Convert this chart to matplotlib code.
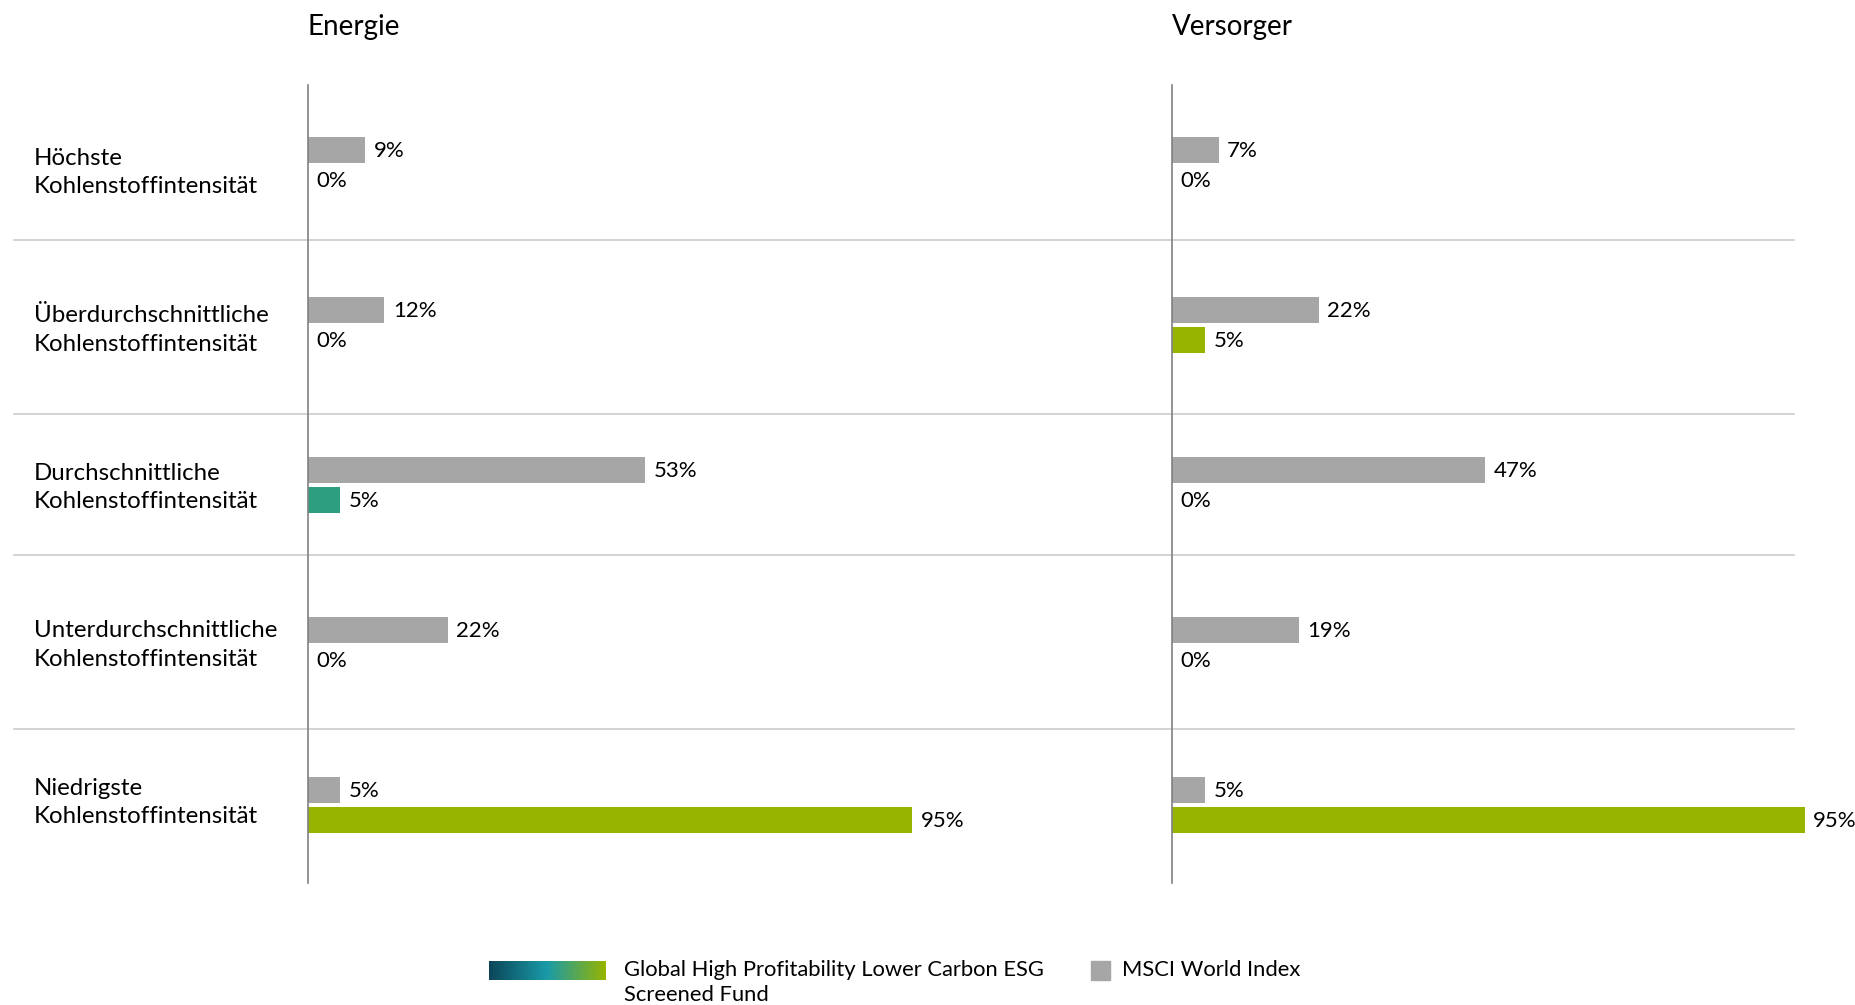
import matplotlib
matplotlib.use("Agg")
import matplotlib.pyplot as plt
import numpy as np
from matplotlib.colors import LinearSegmentedColormap

plt.rcParams.update({"font.family": ["Lato", "DejaVu Sans"], "font.size": 16})

# Data
categories = ["Höchste\nKohlenstoffintensität",
              "Überdurchschnittliche\nKohlenstoffintensität",
              "Durchschnittliche\nKohlenstoffintensität",
              "Unterdurchschnittliche\nKohlenstoffintensität",
              "Niedrigste\nKohlenstoffintensität"]
panels = ["Energie", "Versorger"]
msci_energie = [9, 12, 53, 22, 5]
fund_energie = [0, 0, 5, 0, 95]
msci_versorger = [7, 22, 47, 19, 5]
fund_versorger = [0, 5, 0, 0, 95]
fund_name = "Global High Profitability Lower Carbon ESG\nScreened Fund"
index_name = "MSCI World Index"

GRAY = "#a6a6a6"
GREEN = "#97b400"
TEAL = "#2e9e80"
fund_colors_energie = [GREEN, GREEN, TEAL, GREEN, GREEN]
fund_colors_versorger = [GREEN, GREEN, GREEN, GREEN, GREEN]

W, H = 1856, 1005
fig = plt.figure(figsize=(W / 100, H / 100), dpi=100)

# background axes in pixel coords (y down)
bg = fig.add_axes([0, 0, 1, 1])
bg.set_xlim(0, W); bg.set_ylim(H, 0); bg.axis("off")

row0, row_step, gap, bh = 150, 160, 29.5, 26
for y in (240, 414, 555, 729):
    bg.plot([14, 1794], [y, y], color="#d0d0d0", lw=1.3)
for i, cat in enumerate(categories):
    bg.text(34, 172.5 + i * 157.5, cat, ha="left", va="center",
            fontsize=17.3, linespacing=1.42)

# panels: (left px, px per 100%)
layout = [(308, 636), (1172, 666)]
data = [(msci_energie, fund_energie, fund_colors_energie),
        (msci_versorger, fund_versorger, fund_colors_versorger)]

for (left, width), name, (msci, fund, fcols) in zip(layout, panels, data):
    ax = fig.add_axes([left / W, 0, width / W, 1])
    ax.set_xlim(0, 100); ax.set_ylim(H, 0); ax.axis("off")
    ypos = row0 + np.arange(len(categories)) * row_step
    ax.barh(ypos, msci, height=bh, color=GRAY)
    ax.barh(ypos + gap, fund, height=bh, color=fcols)
    off = 8.5 * 100 / width
    for y, v in zip(ypos, msci):
        ax.text(v + off, y + 1, f"{v}%", va="center", ha="left", fontsize=16, clip_on=False)
    for y, v in zip(ypos + gap, fund):
        ax.text(v + off, y + 1, f"{v}%", va="center", ha="left", fontsize=16, clip_on=False)
    ax.plot([0, 0], [85, 883], color="#808080", lw=1.2, clip_on=False)
    ax.text(0, 27, name, ha="left", va="center", fontsize=20)

# legend
cmap = LinearSegmentedColormap.from_list("fund", ["#0b4658", "#1a9ba8", GREEN])
grad = np.linspace(0, 1, 256).reshape(1, -1)
bg.imshow(grad, cmap=cmap, aspect="auto", extent=[489, 606, 980, 961])
bg.text(624, 960, fund_name, ha="left", va="top", fontsize=15.8, linespacing=1.3)
bg.add_patch(plt.Rectangle((1091, 961), 19, 19, color=GRAY))
bg.text(1122, 970, index_name, ha="left", va="center", fontsize=15.8)
bg.set_xlim(0, W); bg.set_ylim(H, 0)

fig.savefig("out.png", dpi=100)
